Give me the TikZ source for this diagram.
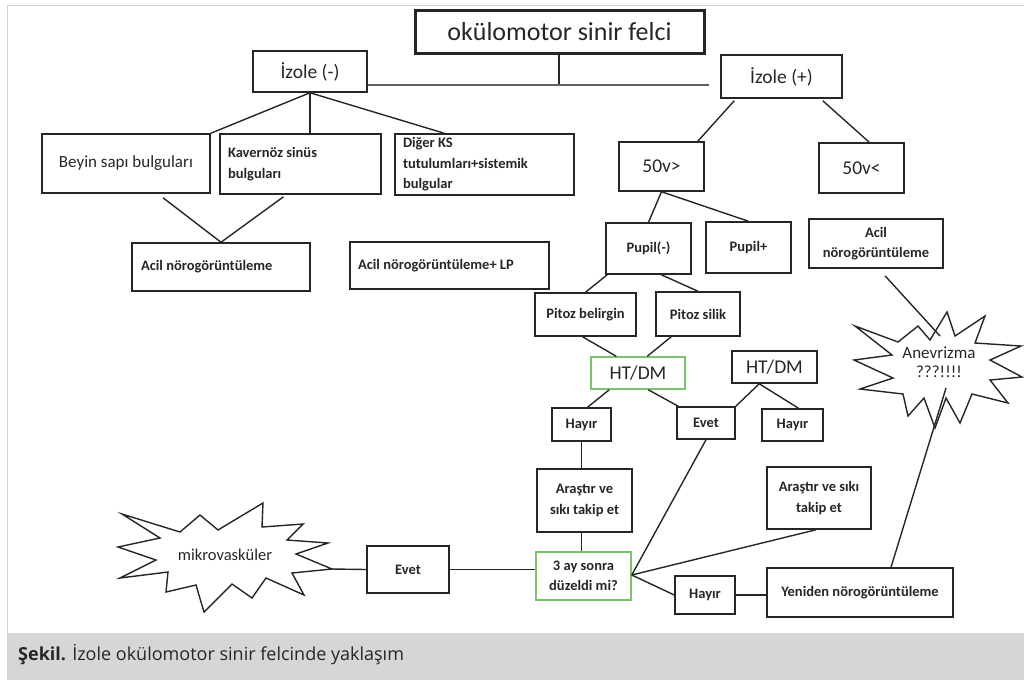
\documentclass[tikz,border=0pt]{standalone}
\usepackage{fontspec}
\setmainfont{Carlito}
\newfontfamily\capfont{Open Sans}
\usetikzlibrary{calc}
\definecolor{ink}{RGB}{38,38,38}
\definecolor{linegray}{RGB}{95,95,95}
\definecolor{boxgreen}{RGB}{122,196,106}
\definecolor{framegray}{RGB}{210,210,210}
\definecolor{bandgray}{RGB}{214,215,213}
\tikzset{
  sz/.style 2 args={minimum width=#1pt, minimum height=#2pt},
  box/.style={draw=ink, line width=1.5pt, inner sep=0pt, align=center, text=ink},
  gbox/.style={box, draw=boxgreen},
  big/.style={font=\fontsize{19.5}{23}\selectfont},
  small/.style={font=\fontsize{14.5}{20.5}\selectfont\bfseries},
  lefttext/.style={align=flush left, inner xsep=8pt},
  link/.style={draw=ink, line width=1.4pt},
  heavy/.style={draw=ink, line width=2.6pt},
  burst/.style={draw=ink, line width=1.4pt, line join=miter},
}
\begin{document}
\begin{tikzpicture}[x=1pt, y=-1pt]
\useasboundingbox (0,0) rectangle (1024,681);

% page frame and caption band
\fill[bandgray] (7,633) rectangle (1024,680);
\draw[framegray, line width=1pt] (7,633) -- (7,5) -- (1024,5);
\node[anchor=west, inner sep=0pt, text=ink] (cap) at (18,655)
  {\capfont\fontsize{18}{21}\selectfont\textbf{Şekil.} İzole okülomotor sinir felcinde yaklaşım};

% top of the tree
\node[box, line width=3pt, sz={289}{43}, font=\fontsize{26}{30}\selectfont] (title) at (559.5,31.5) {okülomotor sinir felci};
\node[box, big, sz={114}{41}] (izm) at (310,71.5) {İzole (-)};
\node[box, big, sz={121}{43}] (izp) at (781.5,76.5) {İzole (+)};

% isolated (-) branch
\node[box, sz={168}{59}, font=\fontsize{17}{20}\selectfont] (beyin) at (126,163.5) {Beyin sapı bulguları};
\node[box, small, lefttext, text width=145pt, minimum height=60pt] (kav) at (300.5,164) {Kavernöz sinüs\\bulguları};
\node[box, small, lefttext, text width=163pt, minimum height=61pt] (diger) at (484.5,164.5) {Diğer KS\\tutulumları+sistemik\\bulgular};
\node[box, small, lefttext, inner xsep=9pt, text width=160pt, minimum height=48pt] (acil1) at (221,267) {Acil nörogörüntüleme};
\node[box, small, lefttext, text width=183pt, minimum height=47pt] (acilLP) at (449.5,265.5) {Acil nörogörüntüleme+ LP};

% isolated (+) branch
\node[box, big, sz={85}{49}] (v50a) at (661.5,166.5) {50v>};
\node[box, big, sz={85}{50}] (v50b) at (861.5,168) {50v<};
\node[box, small, sz={85}{51}] (pupm) at (648.5,248.5) {Pupil(-)};
\node[box, small, sz={85}{51}] (pupp) at (748.5,247.5) {Pupil+};
\node[box, small, sz={134}{49}] (acil2) at (876,243.5) {Acil\\nörogörüntüleme};
\node[box, small, sz={101}{43}] (pitb) at (585.5,314.5) {Pitoz belirgin};
\node[box, small, sz={84}{44}] (pits) at (698,314) {Pitoz silik};
\node[gbox, big, sz={94}{32}] (htg) at (638,373) {HT/DM};
\node[box, big, sz={85}{32}] (ht2) at (774.5,367) {HT/DM};
\node[box, small, sz={59}{33}] (h1) at (581.5,424.5) {Hayır};
\node[box, small, sz={58}{32}] (ev1) at (706,423) {Evet};
\node[box, small, sz={61}{32}] (h2) at (792.5,425) {Hayır};
\node[box, small, sz={95}{63}] (ar1) at (584.5,500.5) {Araştır ve\\sıkı takip et};
\node[box, small, sz={104}{62}] (ar2) at (819,498) {Araştır ve sıkı\\takip et};
\node[gbox, small, sz={95}{48}] (ay3) at (583.5,576) {3 ay sonra\\düzeldi mi?};
\node[box, small, sz={60}{38}] (h3) at (705,595) {Hayır};
\node[box, small, sz={186}{49}] (yen) at (860,592.5) {Yeniden nörogörüntüleme};
\node[box, small, sz={82}{47}] (ev2) at (408,569.5) {Evet};

% burst outlines
\coordinate (mtip) at (332,569);
\draw[burst] (122,514) -- (180,532) -- (200,515) -- (218,530) -- (263,503) -- (262,527)
  -- (303,524) -- (287,540) -- (328,543) -- (296,554) -- (mtip) -- (292,573)
  -- (304,595) -- (266,578) -- (252,598) -- (232,584) -- (204,612) -- (196,585)
  -- (166,592) -- (168,572) -- (120,578) -- (156,560) -- (118,547) -- (160,538) -- cycle;
\node[text=ink, inner sep=0pt, font=\fontsize{16.5}{20}\selectfont] (mikro) at (225,555) {mikrovasküler};

\draw[burst] (855,326) -- (898,342) -- (918,326) -- (930,340) -- (947,312) -- (955,336)
  -- (985,316) -- (975,343) -- (1021,346) -- (990,360) -- (1022,377) -- (990,380)
  -- (1008,403) -- (972,394) -- (960,423) -- (946,398) -- (935,428) -- (924,398)
  -- (908,416) -- (903,394) -- (860,389) -- (893,378) -- (854,360) -- (892,355) -- cycle;
\node[text=ink, inner sep=0pt, align=center, font=\fontsize{17}{19.5}\selectfont] (anv) at (939,362) {Anevrizma\\???!!!!};
\coordinate (anvtop) at (940,336);
\coordinate (anvbot) at (946,388);

% connectors: top level
\coordinate (hjoin) at (559,85);
\coordinate (hend) at (709,85);
\draw[heavy] (title.south -| hjoin) -- (hjoin);
\draw[draw=linegray, line width=1.8pt] (izm.east |- hjoin) -- (hend);

% connectors: isolated (-)
\draw[link] (izm.south) -- (beyin.north east);
\draw[link, line width=2pt] (izm.south) -- (izm.south |- kav.north);
\draw[link] (izm.south) -- ($(diger.north west)+(50,0)$);
\draw[link] ($(beyin.south)+(37,4)$) -- (acil1.north);
\draw[link] ($(kav.south)+(-17,2)$) -- (acil1.north);
\draw[heavy] ($(diger.south west)+(41,0)$) -- ($(diger.south west)+(41,0)$ |- acilLP.north);

% connectors: isolated (+)
\draw[link] ($(izp.south west)+(14,2)$) -- ($(v50a.north east)+(-7,0)$);
\draw[link] ($(izp.south east)+(-20,2)$) -- ($(v50b.north west)+(51,0)$);
\draw[link] (v50a.south) -- (pupm.north);
\draw[link] (v50a.south) -- (pupp.north);
\draw[heavy] ($(v50b.south)+(9,0)$) -- ($(v50b.south)+(9,0)$ |- acil2.north);
\draw[link] ($(pupm.south west)+(2,0)$) -- (pitb.north);
\draw[link] ($(pupm.south west)+(56,0)$) -- (pits.north);
\draw[link] ($(pitb.south)+(-3,0)$) -- ($(htg.north west)+(26,0)$);
\draw[link] ($(pits.south west)+(16,0)$) -- ($(htg.north west)+(57,0)$);
\draw[link] ($(htg.south west)+(19,0)$) -- ($(h1.north)+(6,0)$);
\draw[link] ($(htg.south west)+(58,0)$) -- ($(ev1.north west)+(2,0)$);
\draw[link] ($(ht2.south west)+(28,0)$) -- (ev1.north east);
\draw[link] ($(ht2.south west)+(28,0)$) -- ($(h2.north)+(6,0)$);
\draw[link] (h1.south) -- (h1.south |- ar1.north);
\draw[link] ($(h2.south)+(7,0)$) -- ($(h2.south)+(7,0)$ |- ar2.north);
\draw[link] (ar1.south -| h1.south) -- (ay3.north -| h1.south);
\draw[link] ($(ay3.east)+(0,-1)$) -- (ev1.south);
\draw[link] ($(ay3.east)+(0,-1)$) -- ($(ar2.south)+(-3,0)$);
\draw[link] ($(ay3.east)+(0,-1)$) -- (h3.west);
\draw[link] (h3.east) -- (h3.east -| yen.west);
\draw[link] (ev2.east) -- (ev2.east -| ay3.west);
\draw[link] (mtip) -- (ev2.west);
\draw[link] ($(acil2.south)+(9,7)$) -- (anvtop);
\draw[link] ($(yen.north)+(31,0)$) -- (anvbot);
\end{tikzpicture}
\end{document}
